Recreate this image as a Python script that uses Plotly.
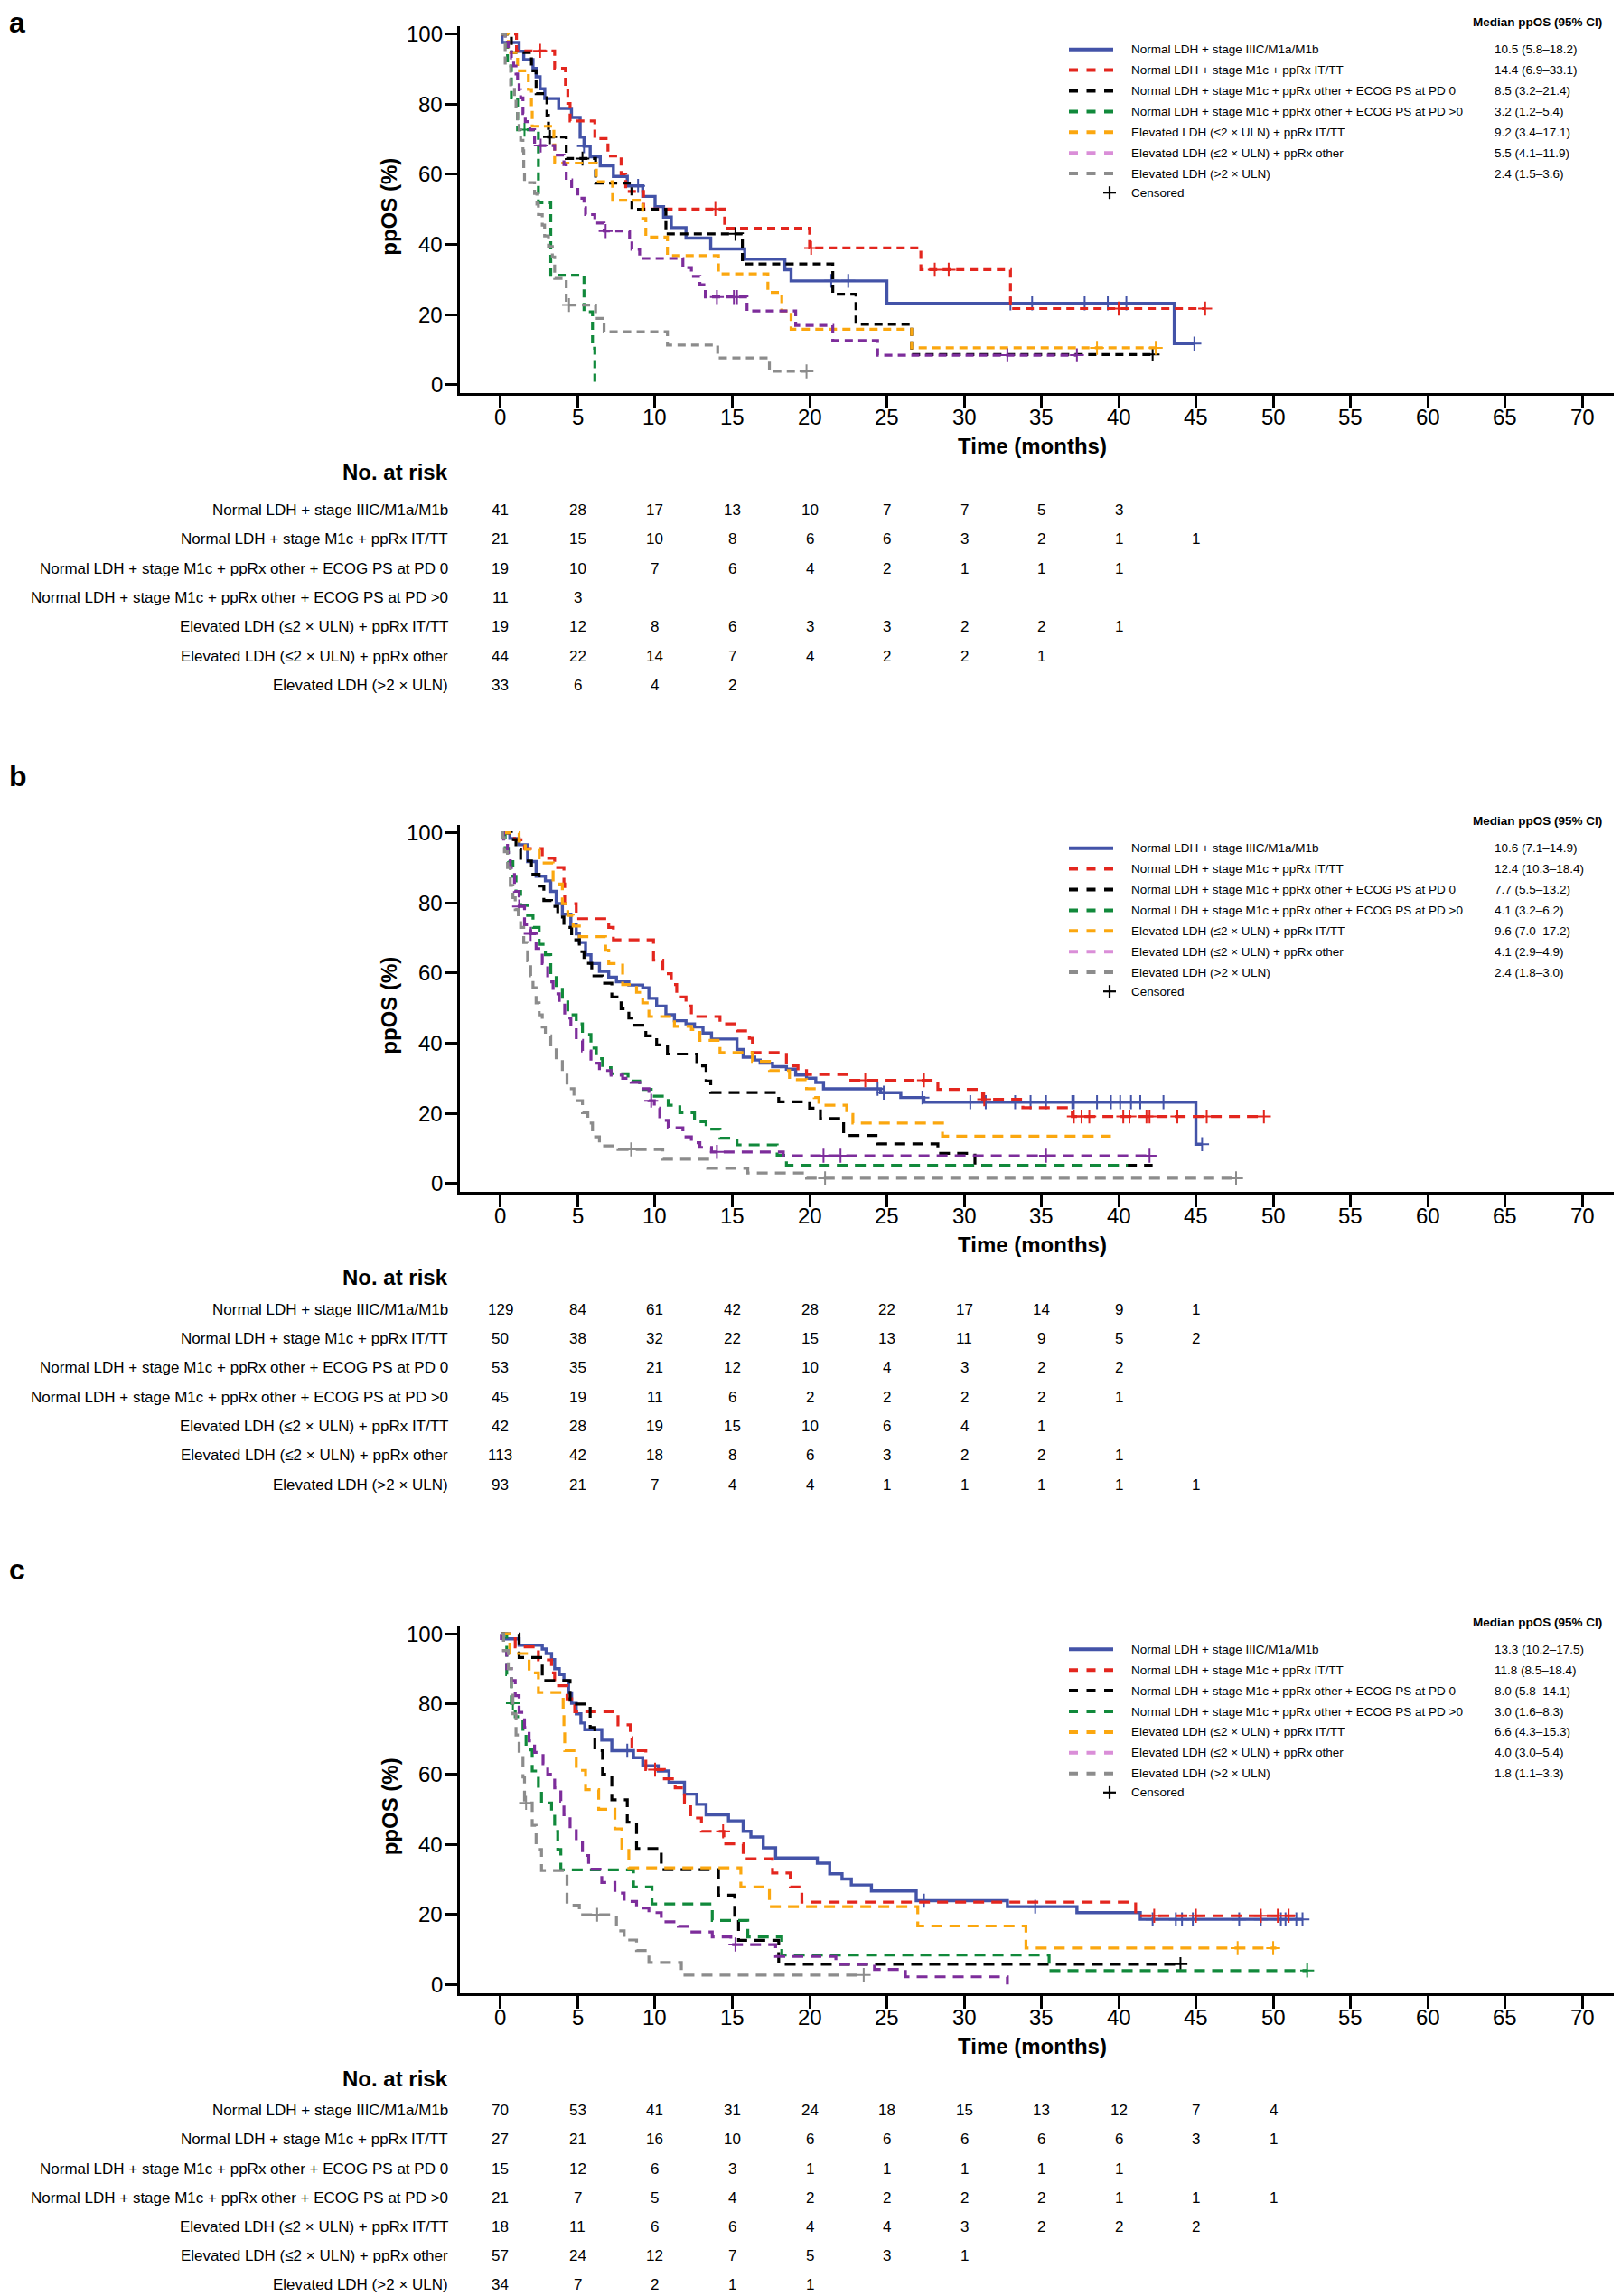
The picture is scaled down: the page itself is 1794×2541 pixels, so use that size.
import plotly.graph_objects as go

# page body adds an 8px margin; the figure is sized/positioned so that it lands on the 1794x2541 frame
PAGE_W, PAGE_H = 1794, 2541
OFF = 8
W, H = PAGE_W - OFF, PAGE_H - OFF
FONT = "Liberation Sans, Arial, Helvetica, sans-serif"

GROUP_LABELS = [
    "Normal LDH + stage IIIC/M1a/M1b",
    "Normal LDH + stage M1c + ppRx IT/TT",
    "Normal LDH + stage M1c + ppRx other + ECOG PS at PD 0",
    "Normal LDH + stage M1c + ppRx other + ECOG PS at PD >0",
    "Elevated LDH (≤2 × ULN) + ppRx IT/TT",
    "Elevated LDH (≤2 × ULN) + ppRx other",
    "Elevated LDH (>2 × ULN)",
]
CURVE_COLORS = ["#4353A8", "#E3261E", "#000000", "#11893B", "#FBA70F", "#7D2D9B", "#8C8C8C"]
LEGEND_COLORS = ["#4353A8", "#E3261E", "#000000", "#11893B", "#FBA70F", "#DA8ED8", "#8C8C8C"]

X_TICKS = list(range(0, 75, 5))
Y_TICKS = [0, 20, 40, 60, 80, 100]

# ---------------- Panel a ----------------
A_MEDIANS = ["10.5 (5.8–18.2)", "14.4 (6.9–33.1)", "8.5 (3.2–21.4)", "3.2 (1.2–5.4)",
             "9.2 (3.4–17.1)", "5.5 (4.1–11.9)", "2.4 (1.5–3.6)"]

A_T_BLUE = [0, 0.1, 1.2, 1.5, 2.1, 2.3, 2.56, 2.86, 3.76, 4.59, 5.15, 5.4, 5.8, 6.45, 7.3, 8.2, 9.2, 10.0,
            10.55, 11.05, 12.0, 13.6, 15.8, 18.4, 18.8, 25.0, 43.6]
A_S_BLUE = [100, 97.6, 95.1, 92.7, 90.2, 87.8, 84.4, 81.6, 78.8, 76.2, 70.6, 68.0, 65.0, 62.4, 59.4, 56.7,
            53.7, 50.8, 47.8, 44.8, 41.8, 38.7, 35.8, 32.8, 29.6, 23.2, 11.7]
A_C_BLUE = [5.4, 8.9, 21.4, 22.5, 33.0, 34.4, 37.8, 39.3, 40.5, 44.9]
A_END_BLUE = 44.9

A_T_RED = [0, 1.03, 3.5, 4.2, 4.35, 4.5, 6.1, 6.95, 7.8, 8.1, 9.25, 14.5, 20.0, 27.2, 33.0]
A_S_RED = [100, 95.2, 90.2, 85.2, 80.2, 75.2, 70.2, 65.2, 60.1, 55.1, 50.1, 44.6, 39.0, 32.8, 21.7]
A_C_RED = [2.56, 13.9, 20.1, 28.1, 29.0, 40.0, 45.6]
A_END_RED = 45.6

A_T_BLACK = [0, 0.7, 2.0, 2.3, 3.0, 3.1, 4.25, 6.15, 8.5, 10.7, 15.65, 21.5, 23.0, 26.6]
A_S_BLACK = [100, 94.7, 89.5, 83.0, 76.8, 70.6, 64.5, 57.5, 50.0, 43.0, 34.4, 25.8, 17.2, 8.6]
A_C_BLACK = [3.2, 5.3, 15.2, 42.2]
A_END_BLACK = 42.2

A_T_GREEN = [0, 0.45, 0.7, 1.1, 2.45, 3.25, 5.4, 5.95, 6.1]
A_S_GREEN = [100, 90.9, 81.8, 72.7, 51.9, 31.2, 20.8, 10.4, 0]
A_C_GREEN = [1.55]
A_END_GREEN = 6.1

A_T_ORANGE = [0, 0.5, 1.1, 1.8, 2.0, 2.05, 3.45, 3.5, 6.2, 7.25, 9.2, 9.4, 10.8, 14.1, 17.3, 18.2, 18.8, 26.6]
A_S_ORANGE = [100, 94.7, 89.5, 84.2, 78.9, 73.7, 68.4, 63.2, 57.9, 52.6, 47.4, 42.1, 36.8, 31.6, 26.3,
              21.0, 15.8, 10.5]
A_C_ORANGE = [38.6, 42.4]
A_END_ORANGE = 42.4

A_T_PURPLE = [0, 0.3, 0.5, 0.7, 0.85, 1.0, 1.1, 1.2, 1.3, 1.45, 1.6, 1.9, 2.2, 3.5, 4.1, 4.25, 4.6, 5.0,
              5.4, 5.5, 6.1, 6.7, 8.35, 8.5, 9.0, 11.8, 12.35, 12.9, 13.25, 15.95, 19.1, 21.5, 24.4]
A_S_PURPLE = [100, 97.7, 95.5, 93.2, 90.9, 88.6, 86.4, 84.1, 81.8, 77.3, 75.0, 72.7, 68.2, 65.5, 62.8,
              58.4, 55.7, 53.2, 50.5, 48.5, 46.1, 43.8, 41.2, 38.6, 36.0, 33.4, 30.9, 28.5, 25.0, 21.0,
              16.9, 12.6, 8.4]
A_C_PURPLE = [2.6, 6.8, 14.0, 15.1, 15.3, 32.8, 37.3]
A_END_PURPLE = 37.3

A_T_GRAY = [0, 0.3, 0.65, 0.9, 1.0, 1.1, 1.2, 1.3, 1.45, 1.5, 1.55, 2.2, 2.35, 2.45, 2.7, 2.85, 3.1, 3.35,
            3.5, 4.25, 6.15, 6.7, 10.8, 14.05, 17.4]
A_S_GRAY = [100, 90.9, 84.8, 81.8, 78.8, 75.8, 72.7, 69.7, 66.7, 60.6, 57.6, 54.5, 51.5, 48.5, 45.5, 42.4,
            39.4, 36.4, 30.3, 22.7, 18.9, 15.1, 11.3, 7.6, 3.8]
A_C_GRAY = [4.43, 19.8]
A_END_GRAY = 19.8

A_RISK = [
    [41, 28, 17, 13, 10, 7, 7, 5, 3],
    [21, 15, 10, 8, 6, 6, 3, 2, 1, 1],
    [19, 10, 7, 6, 4, 2, 1, 1, 1],
    [11, 3],
    [19, 12, 8, 6, 3, 3, 2, 2, 1],
    [44, 22, 14, 7, 4, 2, 2, 1],
    [33, 6, 4, 2],
]

# ---------------- Panel b ----------------
B_MEDIANS = ["10.6 (7.1–14.9)", "12.4 (10.3–18.4)", "7.7 (5.5–13.2)", "4.1 (3.2–6.2)",
             "9.6 (7.0–17.2)", "4.1 (2.9–4.9)", "2.4 (1.8–3.0)"]

B_T_BLUE = [0, 0.6, 1.2, 1.75, 2.3, 2.9, 3.25, 3.6, 4.0, 4.55, 4.9, 5.1, 5.5, 5.85, 6.4, 7.0, 7.5, 8.3, 9.2,
            9.6, 10.1, 10.7, 11.25, 12.0, 12.55, 13.1, 13.65, 15.3, 15.7, 16.45, 16.8, 17.6, 18.5, 19.1,
            19.8, 20.4, 20.9, 24.6, 25.9, 27.4, 45.0]
B_S_BLUE = [100, 98.4, 96.6, 91.8, 87.6, 86.3, 83.3, 79.8, 76.8, 73.8, 71.2, 68.7, 65.2, 62.7, 60.5, 58.8,
            57.5, 56.6, 55.8, 52.8, 50.6, 48.1, 46.4, 45.5, 44.6, 42.9, 41.2, 38.2, 36.0, 35.2, 34.3, 33.3,
            32.6, 30.9, 30.0, 28.8, 27.0, 25.9, 24.5, 23.2, 11.2]
B_C_BLUE = [24.4, 24.8, 27.3, 30.4, 31.4, 33.3, 34.3, 35.3, 37.0, 37.1, 38.6, 39.5, 40.1, 40.8, 41.4, 42.9, 45.4]
B_END_BLUE = 45.4

B_T_RED = [0, 0.9, 1.55, 2.7, 3.5, 4.1, 4.15, 4.9, 7.0, 7.3, 9.9, 10.5, 11.05, 11.4, 12.0, 12.35, 14.2,
           15.3, 16.1, 16.3, 18.5, 19.25, 19.8, 22.4, 28.3, 31.2, 33.8, 37.0]
B_S_RED = [100, 98.0, 95.5, 92.7, 90.1, 85.4, 79.8, 75.5, 73.0, 69.5, 63.7, 59.8, 56.7, 53.2, 50.6, 47.6,
           45.5, 43.5, 41.4, 37.3, 33.5, 32.2, 31.1, 29.4, 26.8, 24.0, 21.6, 19.1]
B_C_RED = [23.6, 27.4, 31.3, 37.1, 37.6, 38.1, 40.3, 40.7, 41.8, 42.0, 43.8, 45.7, 49.4]
B_END_RED = 49.4

B_T_BLACK = [0, 0.7, 1.0, 1.3, 2.0, 2.5, 2.8, 3.3, 3.7, 4.1, 4.6, 5.1, 5.4, 5.9, 6.6, 7.2, 7.8, 8.3, 8.5,
             9.4, 10.1, 10.8, 12.7, 13.3, 13.6, 18.0, 20.0, 20.7, 22.2, 24.4, 28.3, 30.7]
B_S_BLACK = [100, 98.1, 95.3, 92.0, 88.2, 84.8, 80.7, 79.0, 76.0, 73.0, 69.5, 66.1, 62.8, 59.2, 57.1, 53.2,
             49.8, 47.2, 45.1, 42.1, 39.5, 36.9, 33.5, 29.2, 25.9, 23.3, 21.5, 18.5, 13.7, 11.3, 8.6, 5.2]
B_C_BLACK = []
B_END_BLACK = 42.2

B_T_GREEN = [0, 0.3, 0.5, 0.8, 1.0, 1.3, 1.75, 2.1, 2.5, 2.9, 3.25, 3.6, 4.0, 4.35, 4.9, 5.3, 5.85, 6.2,
             6.6, 7.15, 8.25, 9.0, 9.75, 10.85, 11.6, 12.55, 13.3, 14.2, 15.3, 17.9, 18.5]
B_S_GREEN = [100, 95.6, 91.8, 87.6, 83.3, 79.4, 76.4, 73.0, 68.2, 65.2, 60.1, 55.8, 52.4, 48.1, 45.5, 42.5,
             38.6, 35.6, 33.0, 31.3, 29.2, 26.8, 24.9, 22.3, 20.2, 17.6, 15.5, 12.9, 11.0, 8.0, 5.2]
B_C_GREEN = []
B_END_GREEN = 40.6

B_T_ORANGE = [0, 1.2, 1.6, 2.5, 3.4, 4.0, 4.35, 4.7, 5.1, 6.8, 7.0, 7.9, 8.8, 9.2, 9.6, 11.25, 12.35, 12.9,
              14.2, 16.3, 17.4, 18.7, 19.8, 20.3, 20.6, 22.4, 22.8, 28.6]
B_S_ORANGE = [100, 97.6, 95.3, 91.4, 85.4, 79.8, 76.4, 73.4, 70.4, 66.5, 62.7, 56.7, 54.5, 51.5, 47.6, 44.8,
              43.9, 40.8, 37.3, 34.8, 32.2, 29.6, 27.0, 24.5, 22.3, 19.7, 17.2, 13.5]
B_C_ORANGE = []
B_END_ORANGE = 39.5

B_T_PURPLE = [0, 0.2, 0.45, 0.63, 0.9, 1.2, 1.55, 1.95, 2.3, 2.7, 3.05, 3.4, 3.8, 4.15, 4.55, 4.9, 5.3,
              5.85, 6.4, 7.15, 7.9, 8.45, 9.0, 9.6, 9.95, 10.3, 10.85, 11.8, 12.35, 12.9, 13.65, 18.3]
B_S_PURPLE = [100, 97.3, 94.4, 90.1, 83.3, 79.0, 73.8, 71.2, 67.0, 62.7, 57.5, 54.1, 51.5, 47.2, 44.6, 40.8,
              37.8, 34.3, 32.2, 30.9, 30.0, 28.8, 27.0, 23.6, 21.5, 18.0, 15.9, 13.3, 11.6, 10.3, 9.0, 7.9]
B_C_PURPLE = [1.2, 1.95, 9.75, 14.0, 20.9, 22.0, 35.3, 42.0]
B_END_PURPLE = 42.0

B_T_GRAY = [0, 0.15, 0.25, 0.45, 0.63, 0.8, 0.95, 1.15, 1.3, 1.5, 1.75, 1.95, 2.1, 2.3, 2.5, 2.7, 2.9, 3.25,
            3.6, 4.0, 4.3, 4.75, 5.3, 5.65, 5.95, 6.4, 7.6, 10.5, 13.4, 16.0, 19.8]
B_S_GRAY = [100, 98.7, 94.6, 90.1, 85.0, 81.5, 78.1, 75.5, 73.0, 68.7, 63.5, 59.2, 55.8, 51.5, 48.1, 44.6,
            42.1, 38.6, 35.2, 30.9, 27.0, 23.6, 20.2, 17.2, 13.3, 10.7, 9.7, 6.9, 4.3, 3.0, 1.5]
B_C_GRAY = [8.45, 21.0, 47.6]
B_END_GRAY = 47.6

B_RISK = [
    [129, 84, 61, 42, 28, 22, 17, 14, 9, 1],
    [50, 38, 32, 22, 15, 13, 11, 9, 5, 2],
    [53, 35, 21, 12, 10, 4, 3, 2, 2],
    [45, 19, 11, 6, 2, 2, 2, 2, 1],
    [42, 28, 19, 15, 10, 6, 4, 1],
    [113, 42, 18, 8, 6, 3, 2, 2, 1],
    [93, 21, 7, 4, 4, 1, 1, 1, 1, 1],
]

# ---------------- Panel c ----------------
C_MEDIANS = ["13.3 (10.2–17.5)", "11.8 (8.5–18.4)", "8.0 (5.8–14.1)", "3.0 (1.6–8.3)",
             "6.6 (4.3–15.3)", "4.0 (3.0–5.4)", "1.8 (1.1–3.3)"]

C_T_BLUE = [0, 0.2, 1.2, 2.7, 2.95, 3.3, 3.5, 3.8, 4.1, 4.4, 4.6, 4.9, 5.2, 5.45, 6.55, 7.2, 8.6, 9.2, 10.2,
            10.9, 11.9, 12.7, 13.3, 14.75, 15.7, 16.2, 17.0, 17.8, 20.5, 21.3, 22.1, 22.7, 24.0, 26.9, 32.8,
            37.3, 41.4]
C_S_BLUE = [100, 98.6, 96.8, 95.7, 94.4, 92.7, 90.1, 88.4, 86.7, 83.2, 80.2, 77.2, 74.6, 72.7, 69.7, 66.7,
            64.7, 62.4, 60.9, 57.7, 54.3, 51.4, 48.4, 46.7, 43.7, 42.1, 39.0, 36.1, 34.6, 31.6, 30.1, 28.4,
            26.7, 23.9, 22.2, 20.5, 18.6]
C_C_BLUE = [8.2, 27.4, 34.6, 42.2, 43.7, 44.1, 44.8, 47.8, 49.2, 50.5, 50.8, 51.5, 51.9]
C_END_BLUE = 51.9

C_T_RED = [0, 0.95, 2.45, 3.3, 3.5, 4.3, 4.8, 7.6, 8.4, 8.5, 9.4, 10.6, 11.3, 11.9, 12.3, 13.0, 14.45, 15.7,
           17.6, 18.75, 19.5, 41.1]
C_S_RED = [100, 96.3, 92.6, 88.9, 85.2, 81.5, 77.8, 74.1, 70.4, 66.7, 61.3, 58.7, 56.1, 51.8, 47.5, 43.7,
           40.1, 35.9, 31.8, 27.8, 23.5, 19.6]
C_C_RED = [10.0, 14.4, 42.3, 45.0, 49.2, 50.3, 51.0]
C_END_RED = 51.4

C_T_BLACK = [0, 1.2, 2.7, 4.5, 5.8, 6.1, 6.6, 7.2, 8.2, 8.8, 10.4, 14.1, 15.15, 15.4, 18.0]
C_S_BLACK = [100, 93.3, 86.7, 80.0, 73.3, 66.7, 60.0, 52.7, 46.3, 38.8, 32.8, 25.5, 19.2, 12.6, 5.8]
C_C_BLACK = [44.0]
C_END_BLACK = 44.0

C_T_GREEN = [0, 0.4, 0.7, 0.95, 1.45, 1.65, 2.05, 2.45, 2.65, 3.3, 3.5, 3.7, 3.9, 8.6, 9.8, 13.7, 16.0,
             18.2, 35.5]
C_S_GREEN = [100, 88.4, 80.2, 76.4, 72.0, 66.9, 60.9, 55.7, 51.8, 48.0, 43.7, 38.5, 32.7, 27.8, 23.0, 18.3,
             13.6, 8.4, 4.0]
C_C_GREEN = [0.8, 52.2]
C_END_GREEN = 52.2

C_T_ORANGE = [0, 0.6, 1.85, 2.45, 4.05, 4.1, 4.15, 4.9, 5.5, 6.35, 7.4, 7.85, 8.3, 15.55, 17.4, 27.0, 34.0]
C_S_ORANGE = [100, 94.4, 88.9, 83.3, 77.8, 72.2, 66.7, 61.1, 55.6, 50.0, 44.4, 38.9, 33.3, 27.8, 22.2, 16.7,
              10.4]
C_C_ORANGE = [47.7, 50.0]
C_END_ORANGE = 50.2

C_T_PURPLE = [0, 0.05, 0.2, 0.4, 0.7, 0.95, 1.2, 1.55, 1.85, 2.2, 2.75, 3.05, 3.5, 3.9, 4.1, 4.5, 4.9, 5.3,
              5.7, 6.55, 7.4, 8.0, 8.8, 9.6, 10.4, 11.5, 12.1, 13.7, 14.9, 17.8, 21.7, 24.2, 26.2, 32.8]
C_S_PURPLE = [100, 98.7, 95.3, 90.1, 86.7, 82.4, 77.6, 73.3, 69.5, 66.2, 63.0, 60.0, 56.1, 52.3, 48.4, 44.5,
              41.1, 36.8, 32.9, 29.1, 26.1, 23.7, 21.8, 20.5, 17.9, 16.6, 15.0, 13.6, 11.4, 8.0, 5.8, 4.3,
              2.2, 0]
C_C_PURPLE = [15.2]
C_END_PURPLE = 32.8

C_T_GRAY = [0, 0.2, 0.5, 0.7, 0.8, 1.0, 1.2, 1.45, 1.55, 2.05, 2.3, 2.65, 4.3, 5.1, 7.5, 8.0, 8.8, 9.6, 11.7]
C_S_GRAY = [100, 95.3, 90.1, 84.1, 77.2, 71.2, 65.2, 59.2, 51.8, 45.4, 38.5, 32.5, 22.6, 19.9, 15.3, 12.7,
            9.7, 6.3, 2.7]
C_C_GRAY = [1.65, 6.25, 23.5]
C_END_GRAY = 23.5

C_RISK = [
    [70, 53, 41, 31, 24, 18, 15, 13, 12, 7, 4],
    [27, 21, 16, 10, 6, 6, 6, 6, 6, 3, 1],
    [15, 12, 6, 3, 1, 1, 1, 1, 1],
    [21, 7, 5, 4, 2, 2, 2, 2, 1, 1, 1],
    [18, 11, 6, 6, 4, 4, 3, 2, 2, 2],
    [57, 24, 12, 7, 5, 3, 1],
    [34, 7, 2, 1, 1],
]

PANELS = [
    dict(letter="a", letter_y=25, base=37.7, risk_head=522.7, risk_first=564.3, risk_step=32.4,
         dash="9px,6px", medians=A_MEDIANS, risk=A_RISK,
         curves=[(A_T_BLUE, A_S_BLUE, A_C_BLUE, A_END_BLUE), (A_T_RED, A_S_RED, A_C_RED, A_END_RED),
                 (A_T_BLACK, A_S_BLACK, A_C_BLACK, A_END_BLACK), (A_T_GREEN, A_S_GREEN, A_C_GREEN, A_END_GREEN),
                 (A_T_ORANGE, A_S_ORANGE, A_C_ORANGE, A_END_ORANGE),
                 (A_T_PURPLE, A_S_PURPLE, A_C_PURPLE, A_END_PURPLE), (A_T_GRAY, A_S_GRAY, A_C_GRAY, A_END_GRAY)]),
    dict(letter="b", letter_y=859, base=921.7, risk_head=1413.3, risk_first=1449.3, risk_step=32.3,
         dash="12px,8px", medians=B_MEDIANS, risk=B_RISK,
         curves=[(B_T_BLUE, B_S_BLUE, B_C_BLUE, B_END_BLUE), (B_T_RED, B_S_RED, B_C_RED, B_END_RED),
                 (B_T_BLACK, B_S_BLACK, B_C_BLACK, B_END_BLACK), (B_T_GREEN, B_S_GREEN, B_C_GREEN, B_END_GREEN),
                 (B_T_ORANGE, B_S_ORANGE, B_C_ORANGE, B_END_ORANGE),
                 (B_T_PURPLE, B_S_PURPLE, B_C_PURPLE, B_END_PURPLE), (B_T_GRAY, B_S_GRAY, B_C_GRAY, B_END_GRAY)]),
    dict(letter="c", letter_y=1737, base=1808.3, risk_head=2300.7, risk_first=2335.7, risk_step=32.2,
         dash="12px,8px", medians=C_MEDIANS, risk=C_RISK,
         curves=[(C_T_BLUE, C_S_BLUE, C_C_BLUE, C_END_BLUE), (C_T_RED, C_S_RED, C_C_RED, C_END_RED),
                 (C_T_BLACK, C_S_BLACK, C_C_BLACK, C_END_BLACK), (C_T_GREEN, C_S_GREEN, C_C_GREEN, C_END_GREEN),
                 (C_T_ORANGE, C_S_ORANGE, C_C_ORANGE, C_END_ORANGE),
                 (C_T_PURPLE, C_S_PURPLE, C_C_PURPLE, C_END_PURPLE), (C_T_GRAY, C_S_GRAY, C_C_GRAY, C_END_GRAY)]),
]

X_RANGE = [-2.63, 72.51]
Y_RANGE = [-2.5, 102.2]
PX_PER_UNIT = 3.88
X_LEFT_PX = 509


def py(ypx):
    """page pixel (reference frame) -> paper y"""
    return 1 - (ypx - OFF) / H


def px(xpx):
    """page pixel (reference frame) -> paper x"""
    return (xpx - OFF) / W


def surv_at(T, S, t):
    val = S[0]
    for ti, si in zip(T, S):
        if ti <= t:
            val = si
        else:
            break
    return val


fig = go.Figure()
annotations = []
shapes = []
layout_axes = {}

for pi, P in enumerate(PANELS):
    idx = "" if pi == 0 else str(pi + 1)
    xa, ya = "x" + idx, "y" + idx
    base = P["base"]
    top_px = base - (Y_RANGE[1] - 100) * PX_PER_UNIT
    bot_px = base + (100 - Y_RANGE[0]) * PX_PER_UNIT

    layout_axes["xaxis" + idx] = dict(
        domain=[px(X_LEFT_PX), 1.0], range=X_RANGE, anchor=ya, tickvals=X_TICKS, showticklabels=False,
        showline=True, linewidth=3, linecolor="black", ticks="outside", ticklen=14, tickwidth=2.5,
        tickcolor="black", showgrid=False, zeroline=False, fixedrange=True)
    layout_axes["yaxis" + idx] = dict(
        domain=[py(bot_px), py(top_px)], range=Y_RANGE, anchor=xa, tickvals=Y_TICKS, showticklabels=False,
        showline=True, linewidth=3, linecolor="black", ticks="outside", ticklen=14, tickwidth=2.5,
        tickcolor="black", showgrid=False, zeroline=False, fixedrange=True)

    # tick labels (placed to match the reference spacing)
    for t in X_TICKS:
        annotations.append(dict(text=str(t), x=t, y=py(base + 424), xref=xa, yref="paper",
                                xanchor="center", yanchor="middle", showarrow=False,
                                font=dict(size=24, color="black", family=FONT)))
    for v in Y_TICKS:
        annotations.append(dict(text=str(v), x=px(492), y=v, xref="paper", yref=ya,
                                xanchor="right", yanchor="middle", showarrow=False,
                                font=dict(size=24, color="black", family=FONT)))

    for ci, (T, S, C, END) in enumerate(P["curves"]):
        color = CURVE_COLORS[ci]
        xs = list(T) + ([END] if END > T[-1] else [])
        ys = list(S) + ([S[-1]] if END > T[-1] else [])
        line = dict(color=color, width=3.4, shape="hv")
        if ci != 0:
            line["dash"] = P["dash"]
            line["width"] = 3.2
        fig.add_trace(go.Scatter(x=xs, y=ys, mode="lines", line=line, xaxis=xa, yaxis=ya,
                                 showlegend=False, hoverinfo="skip"))
        if C:
            fig.add_trace(go.Scatter(x=C, y=[surv_at(T, S, c) for c in C], mode="markers",
                                     marker=dict(symbol="cross-thin", size=11, line=dict(color=color, width=2)),
                                     xaxis=xa, yaxis=ya, showlegend=False, hoverinfo="skip"))

    # panel letter
    annotations.append(dict(text="<b>" + P["letter"] + "</b>", x=px(OFF), y=py(P["letter_y"]), xref="paper",
                            yref="paper", xanchor="left", yanchor="middle", showarrow=False,
                            font=dict(size=32, color="black", family=FONT)))
    # axis titles
    annotations.append(dict(text="<b>ppOS (%)</b>", x=px(431), y=py(base + 191), xref="paper", yref="paper",
                            textangle=-90, xanchor="center", yanchor="middle", showarrow=False,
                            font=dict(size=24, color="black", family=FONT)))
    annotations.append(dict(text="<b>Time (months)</b>", x=px(1142), y=py(base + 456), xref="paper",
                            yref="paper", xanchor="center", yanchor="middle", showarrow=False,
                            font=dict(size=24, color="black", family=FONT)))

    # legend block
    annotations.append(dict(text="<b>Median ppOS (95% CI)</b>", x=px(1628), y=py(base - 12.8), xref="paper",
                            yref="paper", xanchor="left", yanchor="middle", showarrow=False,
                            font=dict(size=13.5, color="black", family=FONT)))
    for gi, label in enumerate(GROUP_LABELS):
        yrow = base + 17 + 22.9 * gi
        shapes.append(dict(type="line", xref="paper", yref="paper", x0=px(1183), x1=px(1232),
                           y0=py(yrow), y1=py(yrow),
                           line=dict(color=LEGEND_COLORS[gi], width=4,
                                     dash="solid" if gi == 0 else "10px,9.5px")))
        annotations.append(dict(text=label, x=px(1250), y=py(yrow), xref="paper", yref="paper",
                                xanchor="left", yanchor="middle", showarrow=False,
                                font=dict(size=13.5, color="black", family=FONT)))
        annotations.append(dict(text=P["medians"][gi], x=px(1652), y=py(yrow), xref="paper", yref="paper",
                                xanchor="left", yanchor="middle", showarrow=False,
                                font=dict(size=13.5, color="black", family=FONT)))
    ycens = base + 175.5
    shapes.append(dict(type="line", xref="paper", yref="paper", x0=px(1221), x1=px(1235),
                       y0=py(ycens), y1=py(ycens), line=dict(color="black", width=2.2)))
    shapes.append(dict(type="line", xref="paper", yref="paper", x0=px(1228), x1=px(1228),
                       y0=py(ycens - 7), y1=py(ycens + 7), line=dict(color="black", width=2.2)))
    annotations.append(dict(text="Censored", x=px(1250), y=py(ycens), xref="paper", yref="paper",
                            xanchor="left", yanchor="middle", showarrow=False,
                            font=dict(size=13.5, color="black", family=FONT)))

    # risk table
    annotations.append(dict(text="<b>No. at risk</b>", x=px(498), y=py(P["risk_head"]), xref="paper",
                            yref="paper", xanchor="right", yanchor="middle", showarrow=False,
                            font=dict(size=24, color="black", family=FONT)))
    for gi, row in enumerate(P["risk"]):
        yrow = P["risk_first"] + P["risk_step"] * gi
        annotations.append(dict(text=GROUP_LABELS[gi], x=px(498), y=py(yrow), xref="paper", yref="paper",
                                xanchor="right", yanchor="middle", showarrow=False,
                                font=dict(size=17, color="black", family=FONT)))
        for k, n in enumerate(row):
            annotations.append(dict(text=str(n), x=X_TICKS[k], y=py(yrow), xref=xa, yref="paper",
                                    xanchor="center", yanchor="middle", showarrow=False,
                                    font=dict(size=17, color="black", family=FONT)))

fig.update_layout(
    width=W, height=H, margin=dict(l=0, r=0, t=0, b=0),
    paper_bgcolor="white", plot_bgcolor="white",
    font=dict(family=FONT, color="black"),
    showlegend=False, annotations=annotations, shapes=shapes,
    **layout_axes)

fig.write_html("out.html")
